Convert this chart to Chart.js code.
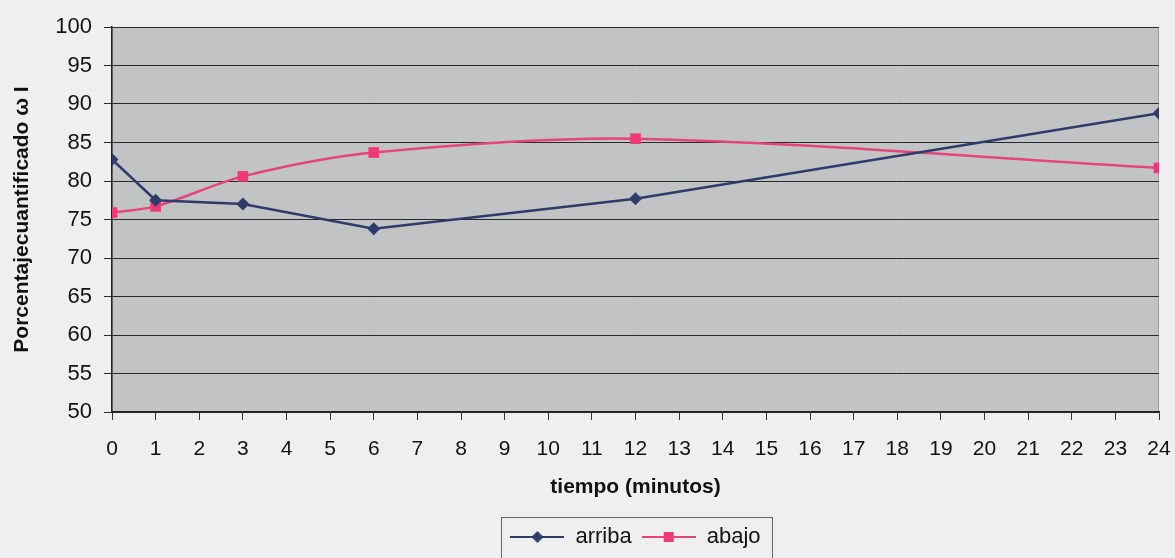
<!DOCTYPE html>
<html>
<head>
<meta charset="utf-8">
<script src="https://cdn.jsdelivr.net/npm/chart.js@4/dist/chart.umd.min.js"></script>
<style>
  html, body { margin: 0; padding: 0; background: #efefef; }
  #wrap { width: 1175px; height: 558px; position: relative; }
</style>
</head>
<body>
<div id="wrap"><canvas id="c" width="1175" height="558"></canvas></div>
<script>
const minutes = [0, 1, 3, 6, 12, 24];
const arriba = [82.8, 77.5, 77.0, 73.8, 77.7, 88.8];
const abajo = [75.9, 76.7, 80.6, 83.7, 85.5, 81.7];
const seriesNames = ['arriba', 'abajo'];
const xTitle = 'tiempo (minutos)';
const yTitle = 'Porcentajecuantificado \u03C9 I';

const navy = '#2e3b6b';
const pink = '#e4457b';
const pinkMarker = '#ee3b77';

function toPoints(ys) { return minutes.map((m, i) => ({ x: m, y: ys[i] })); }

function legendIcon(color, markerColor, kind) {
  const cv = document.createElement('canvas');
  cv.width = 54; cv.height = 16;
  const g = cv.getContext('2d');
  g.strokeStyle = color; g.lineWidth = 2;
  g.beginPath(); g.moveTo(0, 8); g.lineTo(54, 8); g.stroke();
  g.fillStyle = markerColor;
  g.beginPath();
  if (kind === 'diamond') {
    g.moveTo(27, 2); g.lineTo(33, 8); g.lineTo(27, 14); g.lineTo(21, 8); g.closePath();
  } else {
    g.rect(22, 3, 10, 10);
  }
  g.fill();
  return cv;
}
const icons = [legendIcon(navy, navy, 'diamond'), legendIcon(pink, pinkMarker, 'square')];

const plotBg = {
  id: 'plotBg',
  beforeDraw(chart) {
    const { ctx, chartArea: a } = chart;
    ctx.save();
    ctx.fillStyle = '#c1c3c5';
    ctx.fillRect(a.left, a.top, a.right - a.left, a.bottom - a.top);
    ctx.strokeStyle = '#9a9c9e';
    ctx.lineWidth = 1;
    ctx.strokeRect(a.left + 0.5, a.top + 0.5, a.right - a.left - 1, a.bottom - a.top - 1);
    ctx.restore();
  }
};
const legendBox = {
  id: 'legendBox',
  afterDraw(chart) {
    const hb = chart.legend.legendHitBoxes;
    if (!hb || !hb.length) return;
    const l = hb[0].left - 9;
    const r = hb[hb.length - 1].left + hb[hb.length - 1].width + 12;
    const ctx = chart.ctx;
    ctx.save();
    ctx.strokeStyle = '#666';
    ctx.lineWidth = 1;
    ctx.strokeRect(Math.round(l) + 0.5, 517.5, Math.round(r - l), 60);
    ctx.restore();
  }
};

new Chart(document.getElementById('c'), {
  type: 'line',
  data: {
    datasets: [
      {
        label: seriesNames[0], data: toPoints(arriba),
        borderColor: navy, backgroundColor: navy, borderWidth: 2.5,
        pointStyle: 'rectRot', pointRadius: 6.5, pointBorderWidth: 0,
        pointBackgroundColor: navy, tension: 0
      },
      {
        label: seriesNames[1], data: toPoints(abajo),
        borderColor: pink, backgroundColor: pinkMarker, borderWidth: 2.5,
        pointStyle: 'rect', pointRadius: 7.5, pointBorderWidth: 0,
        pointBackgroundColor: pinkMarker, tension: 0.3
      }
    ]
  },
  options: {
    responsive: false,
    animation: false,
    layout: { padding: { top: 27, right: 0, left: 0, bottom: 0 } },
    plugins: {
      tooltip: { enabled: false },
      legend: {
        position: 'bottom',
        fullSize: false,
        labels: {
          usePointStyle: true,
          pointStyleWidth: 54,
          padding: 10,
          color: '#111',
          font: { family: 'Liberation Sans, Arial, sans-serif', size: 22 },
          generateLabels(chart) {
            return chart.data.datasets.map((ds, i) => ({
              text: ds.label, pointStyle: icons[i], datasetIndex: i,
              fillStyle: ds.borderColor, strokeStyle: ds.borderColor, lineWidth: 0,
              fontColor: '#111', hidden: false
            }));
          }
        }
      }
    },
    scales: {
      x: {
        type: 'linear', min: 0, max: 24,
        afterFit(s) { s.height = 104; s.paddingRight = 16; s.paddingLeft = 0; },
        ticks: {
          stepSize: 1, padding: 17, color: '#111', maxRotation: 0, autoSkip: false,
          font: { family: 'Liberation Sans, Arial, sans-serif', size: 21 }
        },
        grid: { drawOnChartArea: false, drawTicks: true, tickLength: 8, color: '#333', lineWidth: 1 },
        border: { color: '#222', width: 1.5 },
        title: {
          display: true, text: xTitle, color: '#111',
          font: { family: 'Liberation Sans, Arial, sans-serif', size: 21, weight: 'bold' },
          padding: { top: 4, bottom: 16 }
        }
      },
      y: {
        min: 50, max: 100,
        afterFit(s) { s.width = 112; },
        ticks: {
          stepSize: 5, padding: 12, color: '#111',
          font: { family: 'Liberation Sans, Arial, sans-serif', size: 22 }
        },
        grid: { color: '#2a2a2a', lineWidth: 1, tickLength: 8 },
        border: { color: '#222', width: 1.5 },
        title: {
          display: true, text: yTitle, color: '#111',
          font: { family: 'Liberation Sans, Arial, sans-serif', size: 21, weight: 'bold' },
          padding: { top: 10, bottom: 0 }
        }
      }
    }
  },
  plugins: [plotBg, legendBox]
});
</script>
</body>
</html>
